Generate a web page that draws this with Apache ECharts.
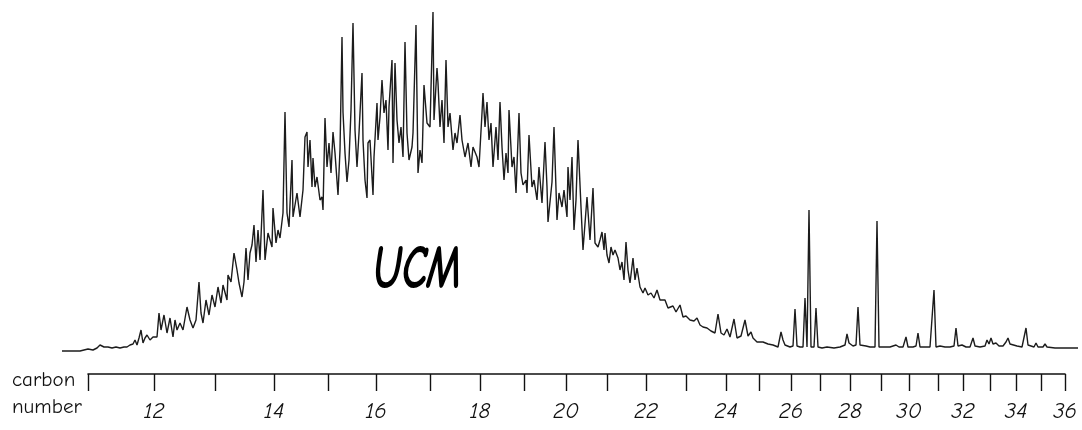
<!DOCTYPE html>
<html>
<head>
<meta charset="utf-8">
<script src="https://cdn.jsdelivr.net/npm/echarts@6/dist/echarts.min.js"></script>
<style>
  html, body { margin: 0; padding: 0; background: #fff; }
  #chart { width: 1082px; height: 430px; }
</style>
</head>
<body>
<div id="chart"></div>
<script>
// Gas chromatogram (FID trace): [scan, response] pairs, grouped by elution region.
const earlyTrace = [
  [24,10],[40,10],[60,10],[76,30],[86,20],[94,40],[100,70],[104,90],[108,50],[116,50],
  [124,40],[132,50],[140,40],[148,50],[154,50],[160,70],[166,80],[170,120],[174,70],[178,140],
  [182,220],[186,90],[190,140],[194,170],[200,120],[206,150],[214,150],[218,390],[222,220],[228,370],
  [234,190],[240,340],[246,150],[250,320],[254,220],[260,290],[266,220],[274,450],[280,320],[286,240],
  [292,320],[298,700],[302,390],[306,290],[312,520],[318,370],[324,570],[330,450],[336,650],[342,490],
  [346,670],[354,520],[356,770],[362,700],[368,990],[374,820],[378,690],[384,550],[388,700],[392,1040],
  [396,720],[400,990],[404,1070],[408,1270],[412,900],[416,1220],[420,920],[426,1620],[430,920],[436,1190],
  [444,1050],[446,1440],[452,1090],[456,1220],[460,1140],[466,1390],[470,2400],[474,1390],[478,1250],[484,1920],
  [486,1350],[494,1590],[500,1350],[506,1620],[510,2150],[514,2200],[516,1850],[520,2120],[524,1650],[526,1940],
  [530,1650],[534,1750],[540,1520],[544,1550],[546,1420],[550,2340],[554,1850],[558,2090],[562,1790],[566,2200],
  [570,1990],[576,1570],[580,2020],[584,3150],[586,2400],[590,1990],[594,1700],[598,1920],[602,2420],[606,3290],
  [610,2220],[614,1850],[618,2190],[624,2790],[626,2120],[630,1720],[634,1540],[636,2090],[640,2120],[646,1570],
  [648,1950],[654,2490],[656,2120],[660,2350],[664,2720],[668,2390],[672,2520],[676,2020],[678,2450],[684,2920],
  [686,1890],[690,2890],[694,2320],[698,2090],[702,2250],[706,1950],[710,3100],[714,2190],[718,1920],[724,2050],
  [726,2190],[732,3270],[736,1790],[740,2020],[744,1890],[748,2670],[754,2290]
];

const humpApex = [
  [760,2250],[766,3400],[768,2320],[774,2840],[776,2690],[780,2250],[784,2520],[788,2090],[792,2920],[796,2250],
  [800,2390],[806,2020],[810,2190],[814,2090],[820,2370],[824,2120],[830,1950],[836,2090],[842,1850],[846,2050],
  [854,1950],[858,1850],[864,2390],[866,2590],[870,2250],[874,2500],[878,2120],[882,2290],[886,1850],[892,2250],
  [896,1920],[900,2500],[904,2050],[908,1720],[912,1990],[916,1790],[918,2420],[924,1850],[928,1950],[932,1590],
  [938,2390],[942,1790],[946,1670],[952,1720],[954,1590],[958,2170],[964,1650],[968,1720],[974,1520],[978,1850],
  [984,1490],[990,2100],[994,1650],[996,1300],[1004,1700],[1008,2250],[1014,1320],[1018,1590],[1024,1450],[1028,1620],
  [1034,1350],[1036,1850],[1040,1520],[1044,1950],[1048,1220],[1052,1520],[1056,2120],[1062,1450],[1066,1020],[1074,1550],
  [1080,1120],[1086,1640],[1090,1090],[1096,1050]
];

const humpTail = [
  [1100,1120],[1104,1200],[1108,1020],[1110,1190],[1114,970],[1118,890],[1122,1050],[1126,970],[1130,1020],[1136,940],
  [1140,820],[1144,900],[1148,720],[1152,1100],[1156,820],[1160,690],[1166,940],[1170,720],[1174,840],[1180,650],
  [1186,590],[1190,640],[1196,570],[1202,590],[1208,540],[1214,620],[1220,520],[1224,500],[1230,520],[1236,440],
  [1240,420],[1246,460],[1252,400],[1260,470],[1266,350],[1272,360],[1280,320],[1288,310],[1294,340],[1300,270],
  [1306,250],[1314,240],[1322,210],[1330,190],[1336,380],[1342,190],[1348,170],[1354,230],[1360,150],[1368,330],
  [1374,140],[1382,160],[1390,320],[1396,160],[1402,200],[1406,140],[1414,100],[1426,100],[1436,80],[1446,70],
  [1456,50]
];

const lateTrace = [
  [1462,200],[1466,120],[1470,70],[1480,50],[1486,60],[1490,430],[1494,60],[1500,50],[1506,50],[1510,540],
  [1514,50],[1518,1420],[1522,50],[1528,50],[1532,440],[1536,50],[1544,40],[1554,50],[1568,40],[1580,50],
  [1590,70],[1594,180],[1598,90],[1602,100],[1606,60],[1612,70],[1616,450],[1620,70],[1624,70],[1632,60],
  [1640,50],[1650,50],[1654,1310],[1658,50],[1670,50],[1680,50],[1692,70],[1698,50],[1706,50],[1712,150],
  [1716,50],[1726,50],[1732,60],[1736,190],[1740,50],[1750,50],[1760,50],[1768,620],[1772,50],[1780,60],
  [1790,50],[1800,50],[1808,60],[1812,240],[1816,60],[1824,70],[1832,50],[1840,50],[1846,140],[1850,60],
  [1860,50],[1870,60],[1874,120],[1878,80],[1882,140],[1886,80],[1892,90],[1898,60],[1906,60],[1912,100],
  [1916,140],[1920,80],[1924,70],[1934,60],[1944,50],[1948,70],[1952,240],[1956,70],[1960,60],[1968,50],
  [1972,90],[1976,50],[1986,50],[1990,80],[1994,50],[2010,40],[2030,40],[2056,40]
];

// Carbon-number markers (n-alkane elution positions, in scans)
const carbonNumbers = [11,12,13,14,15,16,17,18,19,20,21,22,23,24,25,26,27,28,29,30,31,32,33,34,35,36];
const carbonScans = [76,208,330,448,556,652,760,860,948,1032,1114,1192,1272,1352,1418,1482,1540,1600,1662,1718,1776,1826,1880,1932,1982,2030];
const labelledCarbons = [12,14,16,18,20,22,24,26,28,30,32,34,36];

const trace = [].concat(earlyTrace, humpApex, humpTail, lateTrace);
const labelScans = labelledCarbons.map(c => carbonScans[carbonNumbers.indexOf(c)]);

const scanToCarbon = {};
carbonScans.forEach((s, i) => { scanToCarbon[s] = carbonNumbers[i]; });

const handFont = '"Comic Sans MS", "Comic Neue", "DejaVu Sans", sans-serif';

const chart = echarts.init(document.getElementById('chart'), null, { renderer: 'canvas' });

const scanMin = 0, scanMax = 2064;
const pxPerScan = 0.5;
const plotLeft = 50;
const axisLeftPx = plotLeft + carbonScans[0] * pxPerScan;
const axisWidthPx = (carbonScans[carbonScans.length - 1] - carbonScans[0]) * pxPerScan;

chart.setOption({
  animation: false,
  backgroundColor: '#ffffff',
  grid: [
    { left: plotLeft, width: (scanMax - scanMin) * pxPerScan, top: 10, height: 342 },
    { left: axisLeftPx, width: axisWidthPx, top: 360, height: 14 }
  ],
  xAxis: [
    { gridIndex: 0, type: 'value', min: scanMin, max: scanMax, show: false },
    {
      gridIndex: 1, type: 'value',
      min: carbonScans[0], max: carbonScans[carbonScans.length - 1],
      position: 'bottom',
      axisLine: { show: true, lineStyle: { color: '#111', width: 1.6 } },
      axisTick: { show: true, length: 17, lineStyle: { color: '#111', width: 1.4 }, customValues: carbonScans },
      axisLabel: {
        show: true,
        customValues: labelScans,
        margin: 26,
        formatter: v => String(scanToCarbon[v] !== undefined ? scanToCarbon[v] : ''),
        fontFamily: handFont,
        fontStyle: 'italic',
        fontSize: 23,
        color: '#111'
      },
      splitLine: { show: false }
    }
  ],
  yAxis: [
    { gridIndex: 0, type: 'value', min: 0, max: 3420, show: false },
    { gridIndex: 1, type: 'value', min: 0, max: 1, show: false }
  ],
  series: [
    {
      type: 'line',
      xAxisIndex: 0, yAxisIndex: 0,
      data: trace,
      showSymbol: false,
      smooth: false,
      lineStyle: { color: '#1c1c1c', width: 1.4 },
      clip: false
    }
  ],
  graphic: [
    {
      type: 'text', left: 12, top: 370,
      style: { text: 'carbon', font: '21px ' + handFont, fill: '#111' }
    },
    {
      type: 'text', left: 12, top: 397,
      style: { text: 'number', font: '21px ' + handFont, fill: '#111' }
    },
    {
      type: 'text', x: 373, y: 239, scaleX: 0.68,
      style: { text: 'UCM', font: 'italic bold 63px ' + handFont, fill: '#000' }
    }
  ]
});
</script>
</body>
</html>
